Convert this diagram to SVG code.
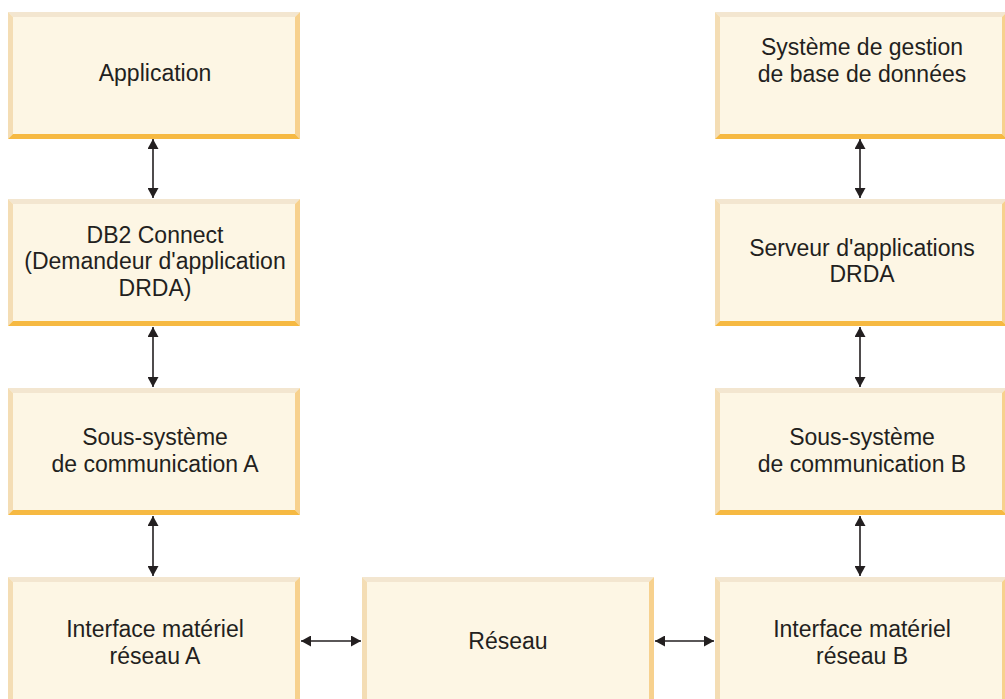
<svg xmlns="http://www.w3.org/2000/svg" xmlns:xlink="http://www.w3.org/1999/xlink" width="1005" height="699" viewBox="0 0 1005 699">
  <style>
    .lbl { font-family: "Liberation Sans", Arial, sans-serif; font-size: 23px; fill: #231f20; text-anchor: middle; }
    .link { stroke: #231f20; stroke-width: 1.6; fill: none; marker-start: url(#head); marker-end: url(#head); }
  </style>
  <defs>
    <!-- bevelled panel used by every node -->
    <g id="panel">
      <rect x="0" y="0" width="292" height="127" fill="#fdf6e4"/>
      <polygon points="0,0 292,0 287,5 5,5" fill="#f3e6d0"/>
      <polygon points="0,0 5,5 5,122 0,127" fill="#f4ddb4"/>
      <polygon points="292,0 292,127 287,122 287,5" fill="#f7d18e"/>
      <polygon points="0,127 5,122 287,122 292,127" fill="#f6b942"/>
    </g>
    <marker id="head" viewBox="0 0 10 11" refX="10" refY="5.5" markerWidth="10" markerHeight="11" markerUnits="userSpaceOnUse" orient="auto-start-reverse">
      <path d="M0,0 L10,5.5 L0,11 Z" fill="#231f20"/>
    </marker>
  </defs>

  <g id="app">
    <use xlink:href="#panel" x="8" y="12"/>
    <text class="lbl" x="155" y="81">Application</text>
  </g>
  <g id="db2connect">
    <use xlink:href="#panel" x="8" y="199"/>
    <text class="lbl" x="155" y="243">DB2 Connect</text>
    <text class="lbl" x="155" y="269">(Demandeur d'application</text>
    <text class="lbl" x="155" y="296">DRDA)</text>
  </g>
  <g id="commA">
    <use xlink:href="#panel" x="8" y="388"/>
    <text class="lbl" x="155" y="445">Sous-système</text>
    <text class="lbl" x="155" y="472">de communication A</text>
  </g>
  <g id="netifA">
    <use xlink:href="#panel" x="8" y="577"/>
    <text class="lbl" x="155" y="637">Interface matériel</text>
    <text class="lbl" x="155" y="664">réseau A</text>
  </g>
  <g id="reseau">
    <use xlink:href="#panel" x="362" y="577"/>
    <text class="lbl" x="508" y="649">Réseau</text>
  </g>
  <g id="sgbd">
    <use xlink:href="#panel" x="715" y="12"/>
    <text class="lbl" x="862" y="55">Système de gestion</text>
    <text class="lbl" x="862" y="82">de base de données</text>
  </g>
  <g id="serveur">
    <use xlink:href="#panel" x="715" y="199"/>
    <text class="lbl" x="862" y="256">Serveur d'applications</text>
    <text class="lbl" x="862" y="282">DRDA</text>
  </g>
  <g id="commB">
    <use xlink:href="#panel" x="715" y="388"/>
    <text class="lbl" x="862" y="445">Sous-système</text>
    <text class="lbl" x="862" y="472">de communication B</text>
  </g>
  <g id="netifB">
    <use xlink:href="#panel" x="715" y="577"/>
    <text class="lbl" x="862" y="637">Interface matériel</text>
    <text class="lbl" x="862" y="664">réseau B</text>
  </g>

  <g id="connectors">
    <line class="link" x1="153" y1="139" x2="153" y2="198"/>
    <line class="link" x1="153" y1="327" x2="153" y2="387"/>
    <line class="link" x1="153" y1="516" x2="153" y2="576"/>
    <line class="link" x1="860" y1="139" x2="860" y2="198"/>
    <line class="link" x1="860" y1="327" x2="860" y2="387"/>
    <line class="link" x1="860" y1="516" x2="860" y2="576"/>
    <line class="link" x1="301" y1="641" x2="361" y2="641"/>
    <line class="link" x1="655" y1="641" x2="714" y2="641"/>
  </g>
</svg>
